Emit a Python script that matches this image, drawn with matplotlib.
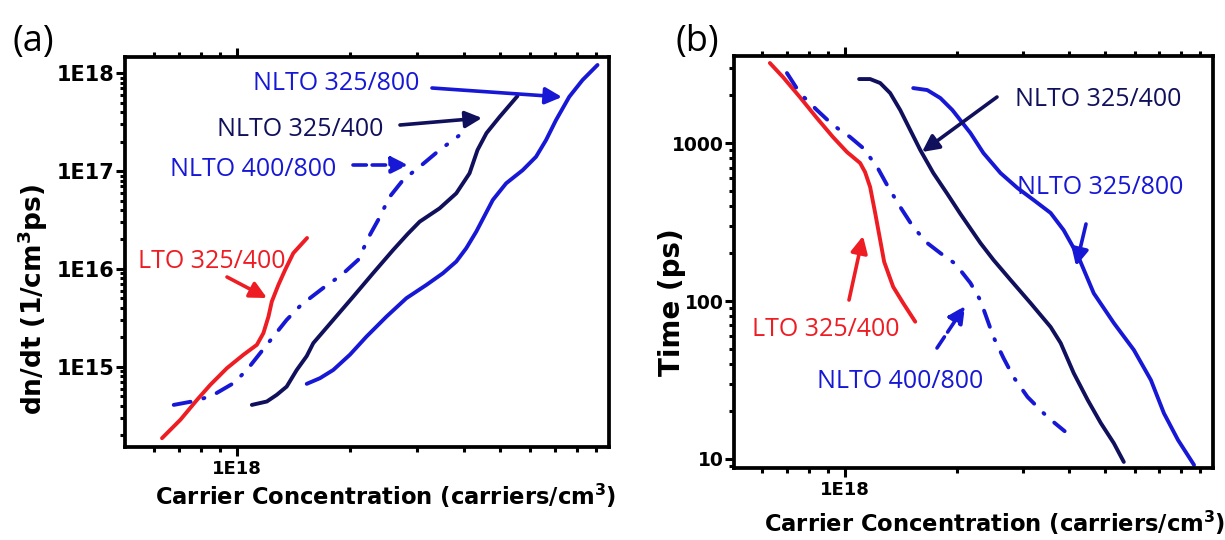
import numpy as np
import matplotlib
matplotlib.use("Agg")
import matplotlib.pyplot as plt
from matplotlib.ticker import LogLocator, FuncFormatter, NullFormatter

# ---- panel (a): dn/dt vs carrier concentration ----
lto_a_x = [6.31e17, 7.06e17, 7.82e17, 8.48e17, 9.39e17, 1.039e18, 1.128e18, 1.174e18,
           1.211e18, 1.236e18, 1.287e18, 1.341e18, 1.410e18, 1.534e18]
lto_a_y = [1.87e14, 2.88e14, 4.61e14, 6.55e14, 9.7e14, 1.33e15, 1.68e15, 2.21e15,
           3.26e15, 4.64e15, 6.87e15, 9.77e15, 1.45e16, 2.07e16]

nlto48_a_x = [6.78e17, 7.82e17, 8.65e17, 9.78e17, 1.061e18, 1.151e18, 1.248e18, 1.354e18,
              1.479e18, 1.712e18, 1.896e18, 2.098e18, 2.253e18, 2.371e18, 2.546e18,
              2.761e18, 3.120e18, 3.455e18, 3.88e18]
nlto48_a_y = [4.09e14, 4.53e14, 5.18e14, 6.82e14, 9.3e14, 1.38e15, 2.04e15, 3.02e15,
              4.29e15, 6.6e15, 8.69e15, 1.24e16, 2.22e16, 3.16e16, 5.47e16,
              8.09e16, 1.18e17, 1.64e17, 2.28e17]

nlto34_a_x = [1.094e18, 1.199e18, 1.274e18, 1.354e18, 1.440e18, 1.531e18, 1.594e18, 1.801e18,
              2.035e18, 2.298e18, 2.598e18, 2.842e18, 3.058e18, 3.455e18, 3.826e18,
              4.150e18, 4.358e18, 4.604e18, 4.985e18, 5.564e18]
nlto34_a_y = [4.09e14, 4.43e14, 5.18e14, 6.29e14, 9.3e14, 1.29e15, 1.75e15, 3.02e15,
              5.21e15, 9.04e15, 1.56e16, 2.28e16, 3.04e16, 4.16e16, 5.92e16,
              9.48e16, 1.64e17, 2.44e17, 3.56e17, 5.82e17]

nlto38_a_x = [1.531e18, 1.661e18, 1.801e18, 1.994e18, 2.208e18, 2.495e18, 2.819e18, 3.186e18,
              3.525e18, 3.826e18, 4.068e18, 4.323e18, 4.785e18, 5.193e18, 5.746e18,
              6.237e18, 6.630e18, 7.047e18, 7.644e18, 8.290e18, 9.087e18]
nlto38_a_y = [6.71e14, 7.67e14, 9.3e14, 1.33e15, 2.04e15, 3.26e15, 5.03e15, 6.87e15,
              9.04e15, 1.19e16, 1.63e16, 2.40e16, 5.06e16, 7.49e16, 1.02e17,
              1.40e17, 2.07e17, 3.31e17, 5.73e17, 8.49e17, 1.21e18]

# ---- panel (b): time vs carrier concentration ----
lto_b_x = [6.28e17, 6.81e17, 7.56e17, 8.40e17, 9.28e17, 1.012e18, 1.098e18, 1.132e18,
           1.168e18, 1.205e18, 1.243e18, 1.274e18, 1.347e18, 1.433e18, 1.544e18]
lto_b_y = [3210, 2616, 1955, 1440, 1091, 877, 747, 655, 527, 361, 243, 177, 123, 97, 74]

nlto48_b_x = [6.98e17, 7.56e17, 8.40e17, 9.28e17, 1.032e18, 1.118e18, 1.220e18, 1.306e18,
              1.407e18, 1.525e18, 1.663e18, 1.804e18, 1.979e18, 2.173e18, 2.311e18,
              2.506e18, 2.666e18, 2.837e18, 3.094e18, 3.503e18, 3.893e18]
nlto48_b_y = [2773, 2072, 1618, 1300, 1091, 930, 705, 527, 394, 294, 233, 201, 172, 130,
              101, 59.2, 43.6, 33.0, 24.7, 18.4, 15.0]

nlto34_b_x = [1.091e18, 1.168e18, 1.243e18, 1.322e18, 1.407e18, 1.497e18, 1.593e18, 1.727e18,
              1.884e18, 2.042e18, 2.311e18, 2.506e18, 2.785e18, 3.153e18, 3.569e18,
              3.798e18, 4.117e18, 4.491e18, 4.868e18, 5.277e18, 5.614e18]
nlto34_b_y = [2541, 2541, 2398, 2072, 1618, 1209, 903, 646, 476, 356, 233, 182, 136, 97,
              68.5, 54.2, 35.0, 23.6, 16.9, 12.6, 9.58]

nlto38_b_x = [1.525e18, 1.663e18, 1.804e18, 1.943e18, 2.173e18, 2.355e18, 2.617e18, 2.908e18,
              3.212e18, 3.569e18, 3.869e18, 4.220e18, 4.661e18, 5.277e18, 5.974e18,
              6.639e18, 7.195e18, 7.850e18, 8.670e18]
nlto38_b_y = [2228, 2165, 1926, 1618, 1157, 864, 646, 519, 436, 361, 281, 195, 112, 72.6,
              49.0, 31.6, 19.5, 13.2, 9.17]

RED = "#ee1c23"
NAVY = "#10105c"
BLUE = "#1717d6"
DASHDOT = (0, (4.4, 3.4, 0.3, 3.4))

plt.rcParams["font.family"] = ["DejaVu Sans"]
plt.rcParams["font.weight"] = "bold"
plt.rcParams["mathtext.fontset"] = "dejavusans"

W, H = 1225, 540


def fx(px):
    return px / W


def fy(py):
    return 1 - py / H


def setup(ax, ylim, yfmt, ysize):
    ax.set_xscale("log")
    ax.set_yscale("log")
    ax.set_xlim(5.03e17, 9.75e18)
    ax.set_ylim(*ylim)
    for s in ax.spines.values():
        s.set_linewidth(2.7)
    ax.xaxis.set_major_locator(LogLocator(base=10, numticks=10))
    ax.xaxis.set_minor_locator(LogLocator(base=10, subs=np.arange(2, 10), numticks=20))
    ax.xaxis.set_major_formatter(FuncFormatter(lambda v, p: f"1E{round(np.log10(v))}"))
    ax.xaxis.set_minor_formatter(NullFormatter())
    ax.yaxis.set_major_locator(LogLocator(base=10, numticks=10))
    ax.yaxis.set_minor_locator(LogLocator(base=10, subs=np.arange(2, 10), numticks=20))
    ax.yaxis.set_major_formatter(FuncFormatter(yfmt))
    ax.yaxis.set_minor_formatter(NullFormatter())
    ax.tick_params(which="both", direction="out", top=True, right=False, width=2.2)
    ax.tick_params(which="major", length=6.5)
    ax.tick_params(which="minor", length=3.5)
    ax.tick_params(axis="x", labelsize=13, pad=3)
    ax.tick_params(axis="y", labelsize=ysize, pad=1)


def curve(ax, x, y, color, dashed=False):
    if dashed:
        ax.plot(x, y, color=color, lw=2.8, linestyle=DASHDOT, dash_capstyle="round")
    else:
        ax.plot(x, y, color=color, lw=2.8, solid_capstyle="round", solid_joinstyle="round")


def label(x, y, s, color):
    fig.text(fx(x), fy(y), s, color=color, fontsize=18, family="Open Sans",
             weight="normal", ha="left", va="baseline")


def arrow(p0, p1, color, dashed=False):
    fig.add_artist(matplotlib.patches.FancyArrowPatch(
        (fx(p0[0]), fy(p0[1])), (fx(p1[0]), fy(p1[1])), transform=fig.transFigure,
        arrowstyle="-|>,head_length=0.5,head_width=0.25", mutation_scale=20,
        color=color, lw=2.6, linestyle="--" if dashed else "-",
        shrinkA=0, shrinkB=0))


fig = plt.figure(figsize=(12.25, 5.4), dpi=100)
ax_a = fig.add_axes([fx(125), fy(447), (609 - 125) / W, (447 - 57) / H])
ax_b = fig.add_axes([fx(734), fy(468), (1213 - 734) / W, (468 - 56) / H])

setup(ax_a, (1.52e14, 1.46e18), lambda v, p: f"1E{round(np.log10(v))}", 15)
setup(ax_b, (8.77, 3556), lambda v, p: f"{v:g}", 13.5)

curve(ax_a, lto_a_x, lto_a_y, RED)
curve(ax_a, nlto48_a_x, nlto48_a_y, BLUE, dashed=True)
curve(ax_a, nlto34_a_x, nlto34_a_y, NAVY)
curve(ax_a, nlto38_a_x, nlto38_a_y, BLUE)

curve(ax_b, lto_b_x, lto_b_y, RED)
curve(ax_b, nlto48_b_x, nlto48_b_y, BLUE, dashed=True)
curve(ax_b, nlto34_b_x, nlto34_b_y, NAVY)
curve(ax_b, nlto38_b_x, nlto38_b_y, BLUE)

# annotations, panel (a)
label(253, 90.5, "NLTO 325/800", BLUE)
label(217, 135.5, "NLTO 325/400", NAVY)
label(170, 175.5, "NLTO 400/800", BLUE)
label(138, 268.5, "LTO 325/400", RED)
arrow((432, 88), (562, 97), BLUE)
arrow((400, 125), (482, 118), NAVY)
arrow((353, 165), (408, 165), BLUE, dashed=True)
arrow((227, 277), (267, 298), RED)

# annotations, panel (b)
label(1015, 105.5, "NLTO 325/400", NAVY)
label(1017, 193.5, "NLTO 325/800", BLUE)
label(752, 336.5, "LTO 325/400", RED)
label(817, 388.5, "NLTO 400/800", BLUE)
arrow((997, 97), (922, 152), NAVY)
arrow((1086, 224), (1076, 266), BLUE)
arrow((849, 300), (863, 236), RED)
arrow((937, 348), (965, 306), BLUE, dashed=True)

# panel tags and axis titles
fig.text(fx(33), fy(42), "(a)", fontsize=26, family="Open Sans", weight="normal",
         ha="center", va="center")
fig.text(fx(697), fy(42), "(b)", fontsize=26, family="Open Sans", weight="normal",
         ha="center", va="center")

xlab = r"Carrier Concentration (carriers/cm$^\mathbf{3}$)"
fig.text(fx(386), fy(505), xlab, fontsize=16.3, ha="center", va="baseline")
fig.text(fx(995), fy(532), xlab, fontsize=16.3, ha="center", va="baseline")
fig.text(fx(33), fy(299), r"dn/dt (1/cm$^\mathbf{3}$ps)", fontsize=19, rotation=90,
         ha="center", va="center")
fig.text(fx(672), fy(302), "Time (ps)", fontsize=20, rotation=90, ha="center", va="center")

fig.savefig("out.png", dpi=100)
